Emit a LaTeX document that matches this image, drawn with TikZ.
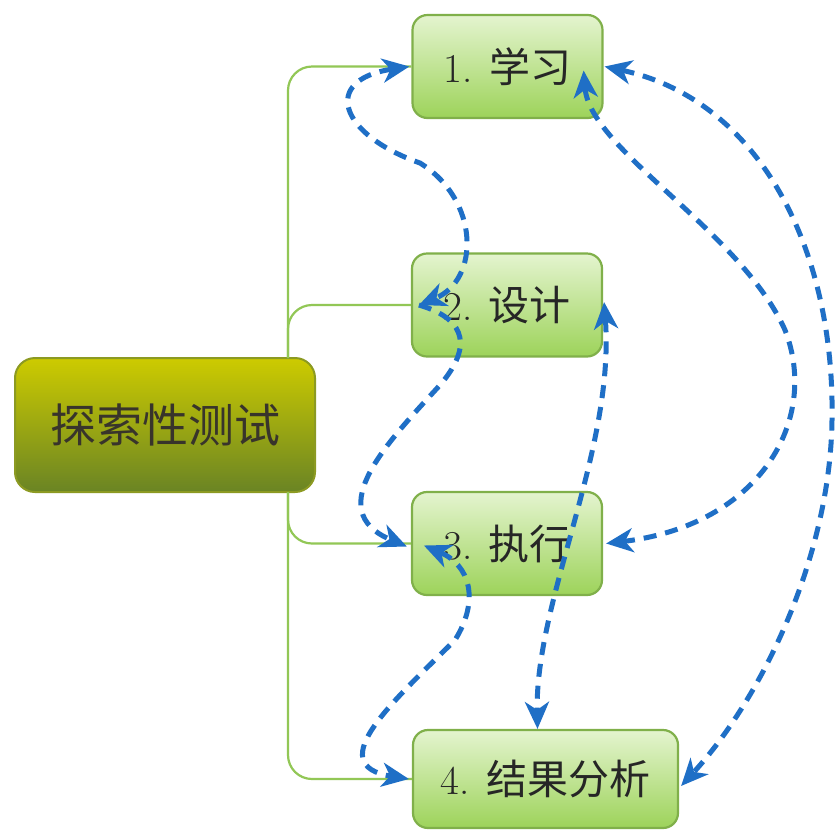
\documentclass[tikz,border=0pt]{standalone}
\usepackage{fontspec}
\newfontfamily\cjk{Noto Sans CJK SC}
\usetikzlibrary{arrows.meta}
\definecolor{relblue}{HTML}{1F6FC6}
\definecolor{treegreen}{HTML}{92C756}
\definecolor{boxline}{HTML}{80B04A}
\definecolor{boxtop}{HTML}{E4F4CF}
\definecolor{boxbot}{HTML}{9DD35A}
\definecolor{roottop}{HTML}{CDCB00}
\definecolor{rootbot}{HTML}{6A8424}
\definecolor{rootline}{HTML}{8C9A22}
\tikzset{
  x=1pt, y=-1pt,
  topicbox/.style={draw=boxline, line width=2.2pt, rounded corners=15pt,
    top color=boxtop, bottom color=boxbot, minimum width=190pt, minimum height=103pt,
    inner sep=0pt, font=\fontsize{41}{43}\selectfont, text=black!85},
  rootbox/.style={draw=rootline, line width=2pt, rounded corners=20pt,
    top color=roottop, bottom color=rootbot, minimum width=300pt, minimum height=134pt,
    inner sep=0pt, font=\cjk\fontsize{46}{48}\selectfont, text=black!80!olive},
  tree/.style={draw=treegreen, line width=2.2pt, rounded corners=24pt},
  tipR/.tip={Stealth[length=27pt,width=24pt,inset=8pt]},
  rel/.style={draw=relblue, line width=5pt, dash pattern=on 13pt off 9pt, tipR-tipR},
}
\begin{document}
\begin{tikzpicture}
\useasboundingbox (0,0) rectangle (835,831);
\fill[white] (0,0) rectangle (835,831);
\node[rootbox] (root) at (165,425) {探索性测试};
\node[topicbox] (b1) at (507.5,66.5) {1. {\cjk 学习}};
\node[topicbox] (b2) at (507,305) {2. {\cjk 设计}};
\node[topicbox] (b3) at (507,543.5) {3. {\cjk 执行}};
\node[topicbox, minimum width=265pt, minimum height=98pt] (b4) at (545.5,779) {4. {\cjk 结果分析}};
% tree connectors
\coordinate (rt) at (288,358);
\coordinate (rb) at (288,492);
\draw[tree] (rt) |- (b1.west);
\draw[tree] (rt) |- (b2.west);
\draw[tree] (rb) |- (b3.west);
\draw[tree] (rb) |- (b4.west);
% relationship connectors
\draw[rel] ([xshift=-2pt]b1.west) .. controls (320,80) and (340,135) .. (420,163)
  .. controls (480,200) and (480,280) .. ([xshift=8pt]b2.west);
\draw[rel, -tipR] ([xshift=8pt]b2.west) .. controls (470,320) and (470,350) .. (440,385)
  .. controls (390,440) and (320,510) .. ([xshift=-4pt,yshift=-3pt]b3.west);
\draw[rel] ([xshift=13pt,yshift=-2pt]b3.west) .. controls (470,565) and (480,600) .. (455,640)
  .. controls (395,700) and (320,765) .. ([xshift=-3pt]b4.west);
\draw[rel] ([xshift=-20pt,yshift=-4pt]b1.east) .. controls (590,150) and (740,230) .. (785,330)
  .. controls (820,420) and (760,525) .. ([xshift=3pt]b3.east);
\draw[rel] ([xshift=1pt]b1.east) .. controls (760,100) and (835,250) .. (832,420)
  .. controls (830,560) and (760,700) .. ([xshift=2pt,yshift=-7pt]b4.east);
\draw[rel] ([xshift=1pt,yshift=3pt]b2.east) .. controls (615,450) and (535,600) .. ([xshift=-8pt]b4.north);
\end{tikzpicture}
\end{document}
